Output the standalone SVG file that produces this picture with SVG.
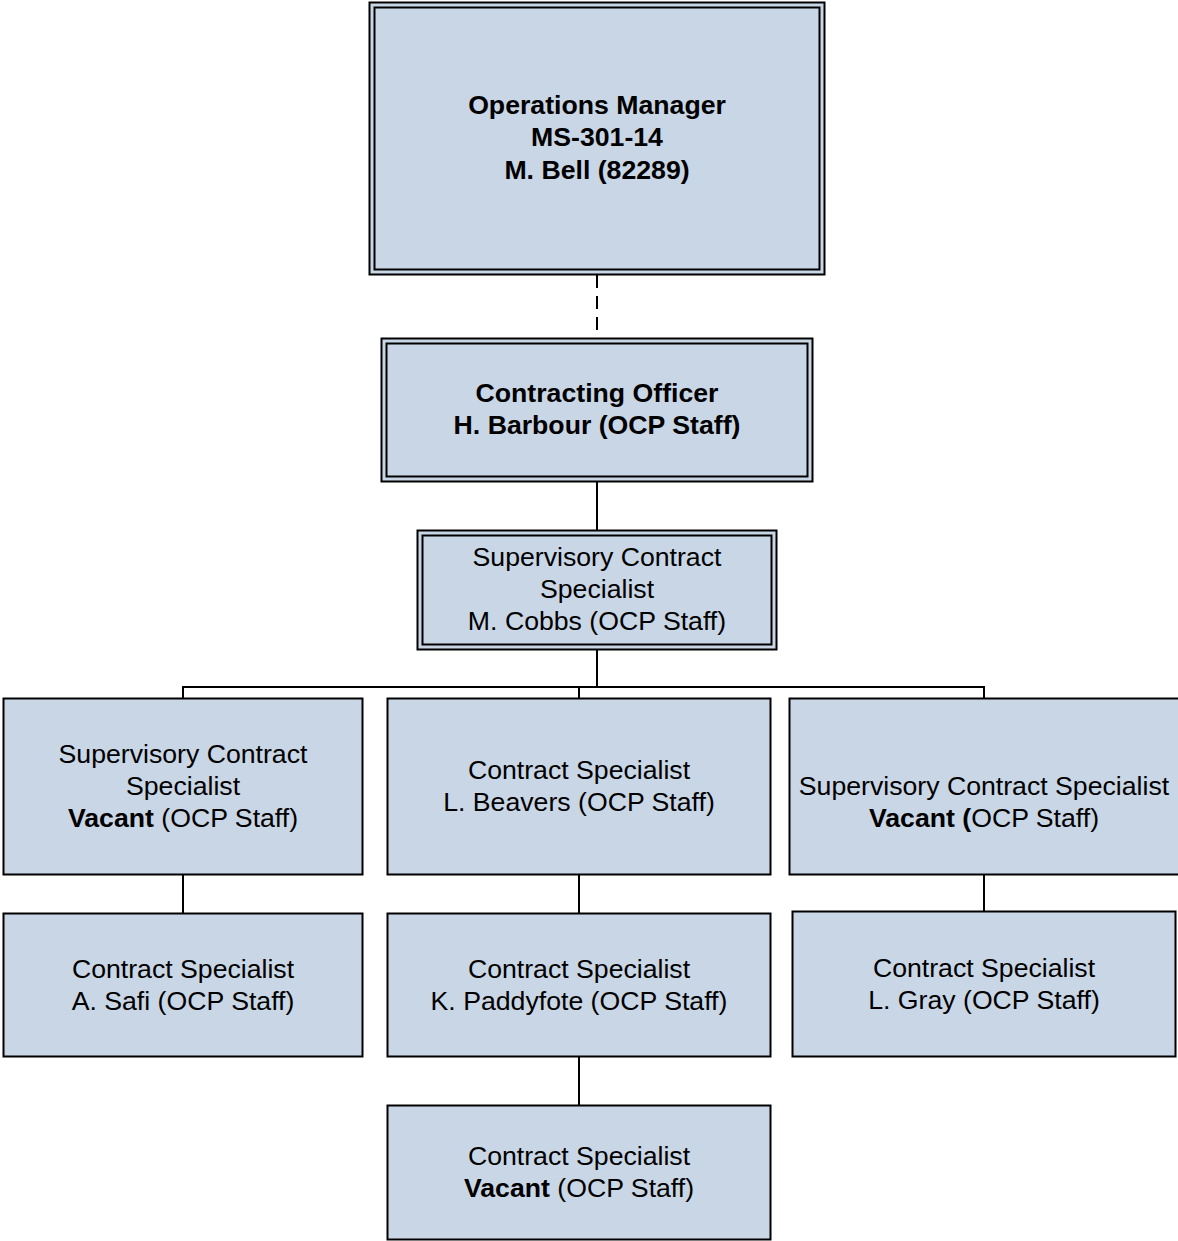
<svg xmlns="http://www.w3.org/2000/svg" width="1178" height="1241" viewBox="0 0 1178 1241">
<style>
.box{fill:#C9D6E5;stroke:#000;stroke-width:2}
.inner{fill:#C9D6E5;stroke:#000;stroke-width:2}
.ln{stroke:#000;stroke-width:2;fill:none}
text{font-family:"Liberation Sans",Arial,sans-serif;font-size:26.67px;fill:#000;text-anchor:middle}
.b{font-weight:bold}
</style>
<rect width="1178" height="1241" fill="#fff"/>
<g id="connectors">
<line class="ln" x1="597" y1="275" x2="597" y2="338" stroke-dasharray="13,8"/>
<line class="ln" x1="597" y1="482" x2="597" y2="530"/>
<line class="ln" x1="597" y1="650" x2="597" y2="687"/>
<polyline class="ln" points="183,698 183,687 984,687 984,698"/>
<line class="ln" x1="579" y1="687" x2="579" y2="698"/>
<line class="ln" x1="183" y1="875" x2="183" y2="913"/>
<line class="ln" x1="579" y1="875" x2="579" y2="913"/>
<line class="ln" x1="984" y1="875" x2="984" y2="911"/>
<line class="ln" x1="579" y1="1057" x2="579" y2="1105"/>
</g>
<g id="ops-manager">
<rect class="box" x="369.5" y="2.5" width="455" height="272"/>
<rect class="inner" x="374.5" y="7.5" width="445" height="262"/>
<text class="b" x="597" y="114">Operations Manager</text>
<text class="b" x="597" y="146">MS-301-14</text>
<text class="b" x="597" y="179">M. Bell (82289)</text>
</g>
<g id="contracting-officer">
<rect class="box" x="381.5" y="338.5" width="431" height="143"/>
<rect class="inner" x="386.5" y="343.5" width="421" height="133"/>
<text class="b" x="597" y="402">Contracting Officer</text>
<text class="b" x="597" y="434">H. Barbour (OCP Staff)</text>
</g>
<g id="cobbs">
<rect class="box" x="417.5" y="530.5" width="359" height="119"/>
<rect class="inner" x="422.5" y="535.5" width="349" height="109"/>
<text x="597" y="566">Supervisory Contract</text>
<text x="597" y="598">Specialist</text>
<text x="597" y="630">M. Cobbs (OCP Staff)</text>
</g>
<g id="sup-left">
<rect class="box" x="3.5" y="698.5" width="359" height="176"/>
<text x="183" y="763">Supervisory Contract</text>
<text x="183" y="795">Specialist</text>
<text x="183" y="827"><tspan class="b">Vacant</tspan> (OCP Staff)</text>
</g>
<g id="beavers">
<rect class="box" x="387.5" y="698.5" width="383" height="176"/>
<text x="579" y="779">Contract Specialist</text>
<text x="579" y="811">L. Beavers (OCP Staff)</text>
</g>
<g id="sup-right">
<rect class="box" x="789.5" y="698.5" width="390" height="176"/>
<text x="984" y="795">Supervisory Contract Specialist</text>
<text x="984" y="827"><tspan class="b">Vacant (</tspan>OCP Staff)</text>
</g>
<g id="safi">
<rect class="box" x="3.5" y="913.5" width="359" height="143"/>
<text x="183" y="978">Contract Specialist</text>
<text x="183" y="1010">A. Safi (OCP Staff)</text>
</g>
<g id="paddyfote">
<rect class="box" x="387.5" y="913.5" width="383" height="143"/>
<text x="579" y="978">Contract Specialist</text>
<text x="579" y="1010">K. Paddyfote (OCP Staff)</text>
</g>
<g id="gray">
<rect class="box" x="792.5" y="911.5" width="383" height="145"/>
<text x="984" y="977">Contract Specialist</text>
<text x="984" y="1009">L. Gray (OCP Staff)</text>
</g>
<g id="vacant-cs">
<rect class="box" x="387.5" y="1105.5" width="383" height="134"/>
<text x="579" y="1165">Contract Specialist</text>
<text x="579" y="1197"><tspan class="b">Vacant</tspan> (OCP Staff)</text>
</g>
</svg>
